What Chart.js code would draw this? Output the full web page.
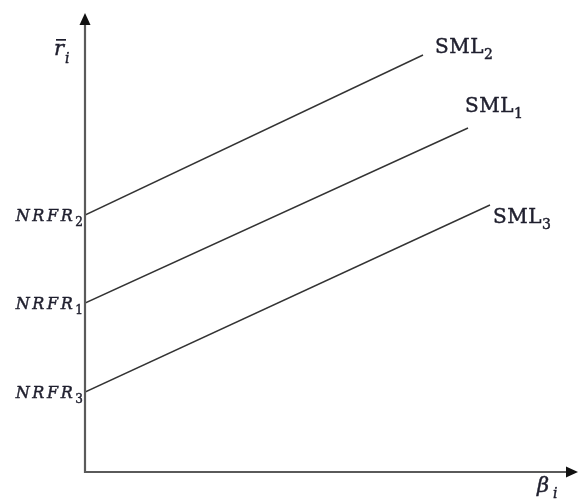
<!DOCTYPE html>
<html>
<head>
<meta charset="utf-8">
<script src="https://cdn.jsdelivr.net/npm/chart.js@4"></script>
<style>
  html, body { margin: 0; padding: 0; background: #fff; }
  #wrap { width: 579px; height: 500px; }
</style>
</head>
<body>
<div id="wrap"><canvas id="smlChart"></canvas></div>
<script>
// Security market lines: intercept = nominal risk-free rate, end point of each line
const lineNames = ['SML', 'SML', 'SML'];
const lineSubs = ['1', '2', '3'];
const interceptNames = ['NRFR', 'NRFR', 'NRFR'];
const intercepts = [1.69, 2.57, 0.80];
const endBetas = [3.83, 3.38, 4.05];
const endReturns = [3.44, 4.17, 2.67];

// label offsets (px) from each line's end point
const labelOffsets = [[-3, -16], [12, -2], [3, 18]];

const axisColor = '#5a5a5a';
const inkColor = '#1f1f2e';

// fill plus a thin stroke so the serif text reads a little heavier
function ink(ctx, text, x, y) {
    ctx.fillText(text, x, y);
    ctx.strokeText(text, x, y);
}

function drawSub(ctx, main, sub, x, y, size, italic, align, spacing) {
    const style = italic ? 'italic ' : '';
    ctx.letterSpacing = spacing + 'px';
    ctx.font = style + size + 'px "DejaVu Serif"';
    const w1 = ctx.measureText(main).width;
    const subSize = Math.round(size * 0.72);
    ctx.letterSpacing = '0px';
    ctx.font = subSize + 'px "DejaVu Serif"';
    const w2 = ctx.measureText(sub).width;
    let left = x;
    if (align === 'right') left = x - w1 - w2;
    ctx.textAlign = 'left';
    ctx.textBaseline = 'alphabetic';
    ctx.letterSpacing = spacing + 'px';
    ctx.font = style + size + 'px "DejaVu Serif"';
    ink(ctx, main, left, y);
    ctx.letterSpacing = '0px';
    ctx.font = subSize + 'px "DejaVu Serif"';
    ink(ctx, sub, left + w1, y + size * 0.32);
}

const axesPlugin = {
    id: 'axesPlugin',
    afterDatasetsDraw(chart) {
        const ctx = chart.ctx;
        const xs = chart.scales.x;
        const ys = chart.scales.y;
        const x0 = xs.getPixelForValue(0);
        const y0 = ys.getPixelForValue(0);
        const xEnd = xs.getPixelForValue(xs.max);
        const yTop = ys.getPixelForValue(ys.max);

        ctx.save();
        // axes
        ctx.strokeStyle = axisColor;
        ctx.lineWidth = 2.2;
        ctx.beginPath();
        ctx.moveTo(x0, y0 + 1);
        ctx.lineTo(x0, yTop + 8);
        ctx.moveTo(x0 - 1, y0);
        ctx.lineTo(xEnd - 8, y0);
        ctx.stroke();

        // arrow heads
        ctx.fillStyle = '#111';
        ctx.beginPath();
        ctx.moveTo(x0, yTop);
        ctx.lineTo(x0 - 5.5, yTop + 12);
        ctx.lineTo(x0 + 5.5, yTop + 12);
        ctx.closePath();
        ctx.fill();
        ctx.beginPath();
        ctx.moveTo(xEnd, y0);
        ctx.lineTo(xEnd - 12, y0 - 5.5);
        ctx.lineTo(xEnd - 12, y0 + 5.5);
        ctx.closePath();
        ctx.fill();

        ctx.fillStyle = inkColor;
        ctx.strokeStyle = inkColor;
        ctx.lineWidth = 0.45;
        // y axis title: r-bar with subscript i
        ctx.font = 'italic 21px "DejaVu Serif"';
        ctx.textAlign = 'left';
        ink(ctx, 'r', x0 - 31, 55);
        ctx.fillRect(x0 - 29, 39, 10, 1.7);
        ctx.font = 'italic 14px "DejaVu Serif"';
        ink(ctx, 'i', x0 - 20, 63);

        // x axis title: beta with subscript i
        ctx.font = 'italic 21px "DejaVu Serif"';
        ink(ctx, 'β', x0 + 452, y0 + 20);
        ctx.font = 'italic 14px "DejaVu Serif"';
        ink(ctx, 'i', x0 + 468, y0 + 26);

        // intercept labels on the y axis
        intercepts.forEach((v, i) => {
            const py = ys.getPixelForValue(v);
            drawSub(ctx, interceptNames[i], lineSubs[i], x0 - 2, py + 6, 16, true, 'right', 2.6);
        });

        // line name labels at the end of each line
        endBetas.forEach((b, i) => {
            const px = xs.getPixelForValue(b) + labelOffsets[i][0];
            const py = ys.getPixelForValue(endReturns[i]) + labelOffsets[i][1];
            drawSub(ctx, lineNames[i], lineSubs[i], px, py, 20, false, 'left', 0.5);
        });
        ctx.restore();
    }
};

const datasets = lineNames.map((name, i) => ({
    label: name + lineSubs[i],
    data: [{ x: 0, y: intercepts[i] }, { x: endBetas[i], y: endReturns[i] }],
    borderColor: '#333',
    borderWidth: 1.4,
    pointRadius: 0,
    showLine: true,
    fill: false
}));

new Chart(document.getElementById('smlChart'), {
    type: 'scatter',
    data: { datasets: datasets },
    options: {
        responsive: true,
        maintainAspectRatio: false,
        animation: false,
        layout: { padding: { left: 85, right: 1, top: 13, bottom: 28 } },
        plugins: { legend: { display: false }, tooltip: { enabled: false } },
        scales: {
            x: { type: 'linear', min: 0, max: 4.93, display: false },
            y: { type: 'linear', min: 0, max: 4.59, display: false }
        }
    },
    plugins: [axesPlugin]
});
</script>
</body>
</html>
